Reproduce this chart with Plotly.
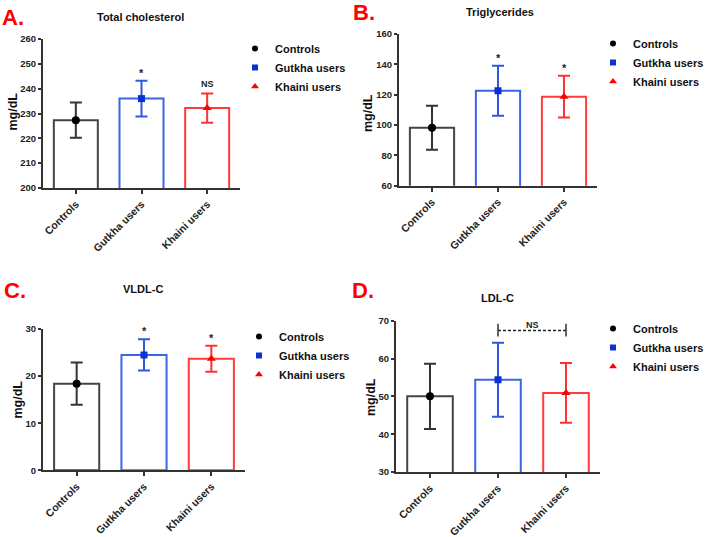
import plotly.graph_objects as go

categories = ["Controls", "Gutkha users", "Khaini users"]

tc_mean = [227.3, 236.0, 232.2]
tc_sd = [7.1, 7.2, 5.9]
tg_mean = [98.2, 122.6, 118.7]
tg_sd = [14.5, 16.5, 13.8]
vldl_mean = [18.4, 24.5, 23.7]
vldl_sd = [4.5, 3.3, 2.75]
ldl_mean = [50.0, 54.4, 50.9]
ldl_sd = [8.6, 9.8, 7.9]

tc_sig = ["", "*", "NS"]
tg_sig = ["", "*", "*"]
vldl_sig = ["", "*", "*"]
ldl_sig_pair = [1, 2]
ldl_sig_label = "NS"

panel_titles = ["Total cholesterol", "Triglycerides", "VLDL-C", "LDL-C"]
panel_letters = ["A.", "B.", "C.", "D."]
y_ranges = [[200, 260], [60, 160], [0, 30], [30, 70]]
y_dtick = [10, 20, 10, 10]

bar_line_colors = ["#444444", "#3b64e6", "#ff3b3b"]
err_colors = ["#333333", "#2f57e0", "#ff3030"]
marker_colors = ["#000000", "#0a32d0", "#ff0000"]
marker_symbols = ["circle", "square", "triangle-up"]
marker_sizes = [8, 7, 8]
legend_marker_sizes = [6, 6, 7]

W, H = 705, 537

def px_x(p):
    return p / W

def px_y(p):
    return 1 - p / H

# panel domains in pixels: (x0, x1, ytop, ybottom)
domains = [
    (43, 240, 39, 188),
    (399, 597, 34, 185.7),
    (43, 245, 329, 470.3),
    (396, 600, 320.7, 472),
]

means = [tc_mean, tg_mean, vldl_mean, ldl_mean]
sds = [tc_sd, tg_sd, vldl_sd, ldl_sd]

fig = go.Figure()
FONT = "Liberation Sans, Arial, sans-serif"

for p in range(4):
    ax = "" if p == 0 else str(p + 1)
    xref = "x" + ax
    yref = "y" + ax
    leg = "legend" if p == 0 else "legend" + str(p + 1)
    for i, cat in enumerate(categories):
        fig.add_trace(go.Bar(
            x=[cat], y=[means[p][i]],
            width=0.67,
            marker=dict(color="white", line=dict(color=bar_line_colors[i], width=2)),
            xaxis=xref, yaxis=yref, showlegend=False, hoverinfo="skip",
        ))
    for i, cat in enumerate(categories):
        fig.add_trace(go.Scatter(
            x=[cat], y=[means[p][i]],
            mode="markers",
            name=cat,
            marker=dict(color=marker_colors[i], symbol=marker_symbols[i], size=marker_sizes[i]),
            error_y=dict(type="data", array=[sds[p][i]], visible=True,
                         color=err_colors[i], thickness=2, width=6),
            xaxis=xref, yaxis=yref, showlegend=False,
        ))
    # legend entries (smaller symbols, as in the reference legend)
    for i, cat in enumerate(categories):
        fig.add_trace(go.Scatter(
            x=[None], y=[None],
            mode="markers",
            name=cat,
            marker=dict(color=marker_colors[i], symbol=marker_symbols[i], size=legend_marker_sizes[i]),
            xaxis=xref, yaxis=yref, legend=leg, showlegend=True, hoverinfo="skip",
        ))

layout = dict(
    template="none",
    width=W, height=H,
    margin=dict(l=0, r=0, t=0, b=0, pad=0, autoexpand=False),
    paper_bgcolor="white", plot_bgcolor="white",
    barmode="overlay",
    font=dict(family=FONT, color="#222222"),
    showlegend=True,
)

legend_pos = [(235, 34), (593, 29), (239, 322), (593, 314)]

for p in range(4):
    ax = "" if p == 0 else str(p + 1)
    x0, x1, yt, yb = domains[p]
    layout["xaxis" + ax] = dict(
        domain=[px_x(x0), px_x(x1)],
        anchor="y" + ax,
        type="category",
        range=[-0.5, 2.5],
        automargin=False,
        showline=True, linecolor="#333333", linewidth=2,
        ticks="outside", ticklen=4, tickcolor="#333333", tickwidth=1.5,
        tickangle=-45,
        tickfont=dict(family=FONT, size=10.5, color="#222222", weight="bold"),
        showgrid=False, zeroline=False, fixedrange=True,
    )
    layout["yaxis" + ax] = dict(
        domain=[px_y(yb), px_y(yt)],
        anchor="x" + ax,
        range=y_ranges[p],
        dtick=y_dtick[p],
        automargin=False,
        showline=True, linecolor="#333333", linewidth=2,
        ticks="outside", ticklen=3, tickcolor="#333333", tickwidth=1.5,
        tickfont=dict(family=FONT, size=9.5, color="#222222", weight="bold"),
        showgrid=False, zeroline=False, fixedrange=True,
    )
    lx, ly = legend_pos[p]
    layout["legend" if p == 0 else "legend" + str(p + 1)] = dict(
        x=px_x(lx), y=px_y(ly), xanchor="left", yanchor="top",
        bgcolor="rgba(0,0,0,0)", borderwidth=0,
        font=dict(family=FONT, size=11, color="#111111", weight="bold"),
        itemwidth=30, tracegroupgap=0,
    )

fig.update_layout(**layout)

annotations = []
# panel letters
letter_pos = [(0, 17), (351, 12.5), (2, 290), (350, 290)]
for p in range(4):
    lx, ly = letter_pos[p]
    annotations.append(dict(
        text=panel_letters[p], x=px_x(lx), y=px_y(ly), xref="paper", yref="paper",
        xanchor="left", yanchor="middle", showarrow=False,
        font=dict(family=FONT, size=22, color="#ff0000", weight="bold"),
    ))
# panel titles
title_pos = [(140, 17), (500, 12), (143, 289), (497, 298)]
for p in range(4):
    tx, ty = title_pos[p]
    annotations.append(dict(
        text=panel_titles[p], x=px_x(tx), y=px_y(ty), xref="paper", yref="paper",
        xanchor="center", yanchor="middle", showarrow=False,
        font=dict(family=FONT, size=11, color="#111111", weight="bold"),
    ))
# y-axis titles
ytitle_pos = [(12.5, 112), (368, 113), (17.5, 400), (371, 397)]
for p in range(4):
    tx, ty = ytitle_pos[p]
    annotations.append(dict(
        text="mg/dL", x=px_x(tx), y=px_y(ty), xref="paper", yref="paper",
        xanchor="center", yanchor="middle", showarrow=False, textangle=-90,
        font=dict(family=FONT, size=12.5, color="#111111", weight="bold"),
    ))
# significance labels
for p, sig in [(0, tc_sig), (1, tg_sig), (2, vldl_sig)]:
    ax = "" if p == 0 else str(p + 1)
    for i, s in enumerate(sig):
        if not s:
            continue
        annotations.append(dict(
            text=s, x=categories[i], y=means[p][i] + sds[p][i],
            xref="x" + ax, yref="y" + ax, xanchor="center", yanchor="bottom",
            showarrow=False, yshift=0 if s == "*" else 2,
            font=dict(family=FONT, size=11 if s == "*" else 9, color="#222222", weight="bold"),
        ))

# LDL bracket
i0, i1 = ldl_sig_pair
bracket_y = 67.4
annotations.append(dict(
    text=ldl_sig_label, x=(i0 + i1) / 2, y=bracket_y, xref="x4", yref="y4",
    xanchor="center", yanchor="bottom", showarrow=False, yshift=-1,
    font=dict(family=FONT, size=9, color="#222222", weight="bold"),
))
fig.add_shape(type="line", x0=i0, x1=i1, y0=bracket_y, y1=bracket_y, xref="x4", yref="y4",
              line=dict(color="#222222", width=1.5, dash="3px,2px"))
for xi in ldl_sig_pair:
    fig.add_shape(type="line", x0=xi, x1=xi, y0=bracket_y - 1.6, y1=bracket_y + 1.8,
                  xref="x4", yref="y4", line=dict(color="#333333", width=1.5))

fig.update_layout(annotations=annotations)

fig.write_html("out.html", config={"displayModeBar": False},
               post_script="document.body.style.margin='0px';")
